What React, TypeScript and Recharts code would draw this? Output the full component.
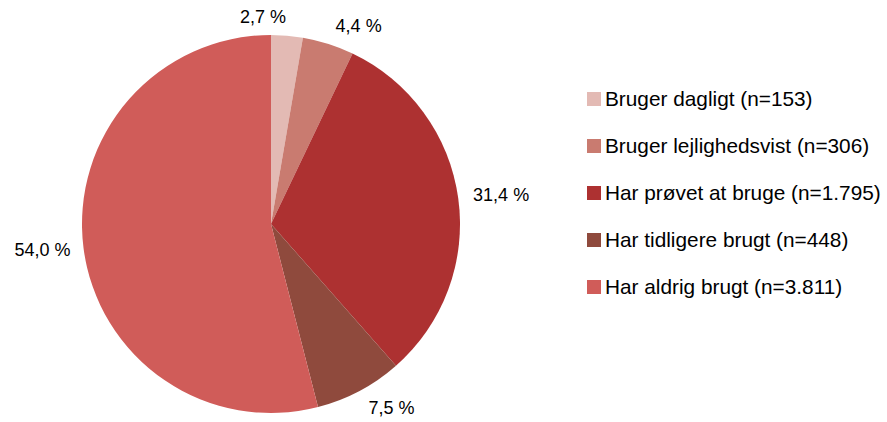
import { PieChart, Pie, Cell } from 'recharts';

const categories = [
  'Bruger dagligt (n=153)',
  'Bruger lejlighedsvist (n=306)',
  'Har prøvet at bruge (n=1.795)',
  'Har tidligere brugt (n=448)',
  'Har aldrig brugt (n=3.811)',
];
const shares = [2.7, 4.4, 31.4, 7.5, 54.0];
const COLORS = ['#E3BAB4', '#C97B70', '#AD3131', '#8F4A3D', '#D05C59'];

const data = categories.map((name, i) => ({ name, value: shares[i] }));

const RADIAN = Math.PI / 180;
const FONT = "'Liberation Sans', Arial, sans-serif";

function renderLabel(props: any) {
  const { cx, cy, outerRadius, midAngle, value } = props;
  const c = Math.cos(-midAngle * RADIAN);
  const s = Math.sin(-midAngle * RADIAN);
  const anchor = c > 0.1 ? 'start' : 'end';
  const x = cx + (outerRadius + 11) * c + (anchor === 'start' ? 4 : -2);
  const y = cy + (outerRadius + 19) * s;
  return (
    <text
      x={x}
      y={y}
      textAnchor={anchor}
      dominantBaseline="central"
      fill="#000"
      fontSize={18}
      fontFamily={FONT}
    >
      {value.toFixed(1).replace('.', ',')} %
    </text>
  );
}

function LegendList() {
  return (
    <div
      style={{
        position: 'absolute',
        left: 587,
        top: 75,
        width: 300,
        whiteSpace: 'nowrap',
        fontFamily: FONT,
        fontSize: 20.8,
        color: '#000',
      }}
    >
      {data.map((d, i) => (
        <div key={d.name} style={{ display: 'flex', alignItems: 'center', height: 47 }}>
          <span style={{ width: 14, height: 14, flex: 'none', background: COLORS[i], marginRight: 4, display: 'inline-block' }} />
          <span>{d.name}</span>
        </div>
      ))}
    </div>
  );
}

export default function App() {
  return (
    <div style={{ position: 'absolute', left: 0, top: 0, width: 887, height: 422, background: '#fff', overflow: 'hidden' }}>
      <PieChart width={887} height={422} margin={{ top: 0, right: 0, bottom: 0, left: 0 }}>
        <Pie
          data={data}
          dataKey="value"
          cx={271}
          cy={224}
          outerRadius={189}
          startAngle={90}
          endAngle={-270}
          stroke="none"
          label={renderLabel}
          labelLine={false}
          isAnimationActive={false}
        >
          {data.map((entry, index) => (
            <Cell key={`cell-${index}`} fill={COLORS[index % COLORS.length]} />
          ))}
        </Pie>
      </PieChart>
      <LegendList />
    </div>
  );
}
